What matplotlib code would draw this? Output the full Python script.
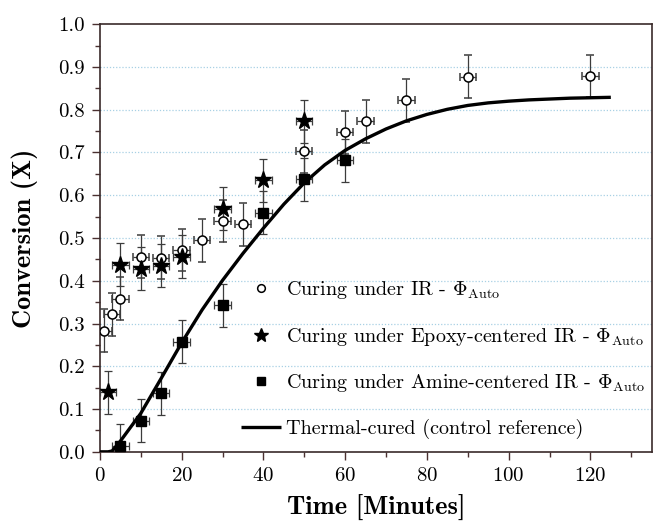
import matplotlib
matplotlib.use("Agg")

import numpy as np
import matplotlib.pyplot as plt
from matplotlib.ticker import MultipleLocator

# ============ data ============
ir_t = [1, 3, 5, 10, 15, 20, 25, 30, 35, 50, 60, 65, 75, 90, 120]
ir_x = [0.283, 0.322, 0.358, 0.456, 0.454, 0.472, 0.495, 0.540, 0.532,
        0.703, 0.747, 0.773, 0.822, 0.877, 0.879]

epoxy_t = [2, 5, 10, 15, 20, 30, 40, 50]
epoxy_x = [0.139, 0.438, 0.428, 0.435, 0.456, 0.569, 0.635, 0.773]

amine_t = [5, 10, 15, 20, 30, 40, 50, 60]
amine_x = [0.014, 0.073, 0.137, 0.258, 0.343, 0.559, 0.637, 0.682]

t_err = 2.0
x_err = 0.05

thermal_t = [0, 2, 3, 5, 10, 15, 20, 25, 30, 35, 40, 45, 50, 55, 60, 65,
             70, 75, 80, 85, 90, 95, 100, 105, 110, 115, 120, 125]
thermal_x = [0.0, 0.0, 0.002, 0.025, 0.09, 0.172, 0.255, 0.332, 0.401,
             0.464, 0.523, 0.579, 0.629, 0.671, 0.705, 0.732, 0.755, 0.774,
             0.789, 0.801, 0.810, 0.816, 0.820, 0.823, 0.825, 0.827, 0.828,
             0.829]

labels = [r"Curing under IR - $\Phi_{\mathrm{Auto}}$",
          r"Curing under Epoxy-centered IR - $\Phi_{\mathrm{Auto}}$",
          r"Curing under Amine-centered IR - $\Phi_{\mathrm{Auto}}$",
          "Thermal-cured (control reference)"]

# ============ style ============
plt.rcParams["font.family"] = "serif"
plt.rcParams["font.serif"] = ["cmr10", "DejaVu Serif"]
plt.rcParams["mathtext.fontset"] = "cm"
plt.rcParams["axes.formatter.use_mathtext"] = True
plt.rcParams["axes.unicode_minus"] = False

fig = plt.figure(figsize=(6.53, 5.26), dpi=100)
ax = fig.add_axes([0.153, 0.141, 0.845, 0.813])

ecol = "#3c3c3c"
eb_kw = dict(xerr=t_err, yerr=x_err, linestyle="none", ecolor=ecol,
             elinewidth=0.9, capsize=3.2, capthick=0.9, zorder=3)

eb1 = ax.errorbar(ir_t, ir_x, marker="o", markersize=6.5,
                  markerfacecolor="white", markeredgecolor="black",
                  markeredgewidth=1.1, **eb_kw)
eb2 = ax.errorbar(epoxy_t, epoxy_x, marker="*", markersize=12.5,
                  color="black", **eb_kw)
eb3 = ax.errorbar(amine_t, amine_x, marker="s", markersize=6.5,
                  color="black", **eb_kw)
line, = ax.plot(thermal_t, thermal_x, color="black", linewidth=2.4,
                zorder=4, solid_capstyle="butt", solid_joinstyle="round")

ax.set_xlim(0, 135)
ax.set_ylim(0, 1.0)
ax.xaxis.set_major_locator(MultipleLocator(20))
ax.xaxis.set_minor_locator(MultipleLocator(10))
ax.yaxis.set_major_locator(MultipleLocator(0.1))
ax.yaxis.set_minor_locator(MultipleLocator(0.05))
ax.yaxis.set_major_formatter(plt.FuncFormatter(lambda v, p: f"{v:.1f}"))

ax.tick_params(which="major", direction="out", length=6, width=1,
               labelsize=15, pad=5, color="#4a3030")
ax.tick_params(which="minor", direction="out", length=3.5, width=1,
               color="#4a3030")
ax.tick_params(top=False, right=False)

for s in ax.spines.values():
    s.set_linewidth(1.2)
    s.set_color("#3a2a2a")

for yv in np.arange(0.1, 0.95, 0.1):
    ax.axhline(yv, color="#a8d0e4", linewidth=0.9, linestyle=(0, (1, 1.5)),
               zorder=1)

ax.set_xlabel("Time [Minutes]", fontfamily="cmb10", fontsize=19, labelpad=7)
ax.set_ylabel("Conversion (X)", fontfamily="cmb10", fontsize=19, labelpad=14)

leg = ax.legend(handles=[eb1[0], eb2[0], eb3[0], line], labels=labels,
                loc="lower left", bbox_to_anchor=(0.255, 0.03),
                frameon=False, fontsize=14.5, handlelength=2.0,
                handletextpad=0.25, labelspacing=1.22, borderpad=0,
                borderaxespad=0, markerscale=0.85)

plt.savefig("out.png", dpi=100)
